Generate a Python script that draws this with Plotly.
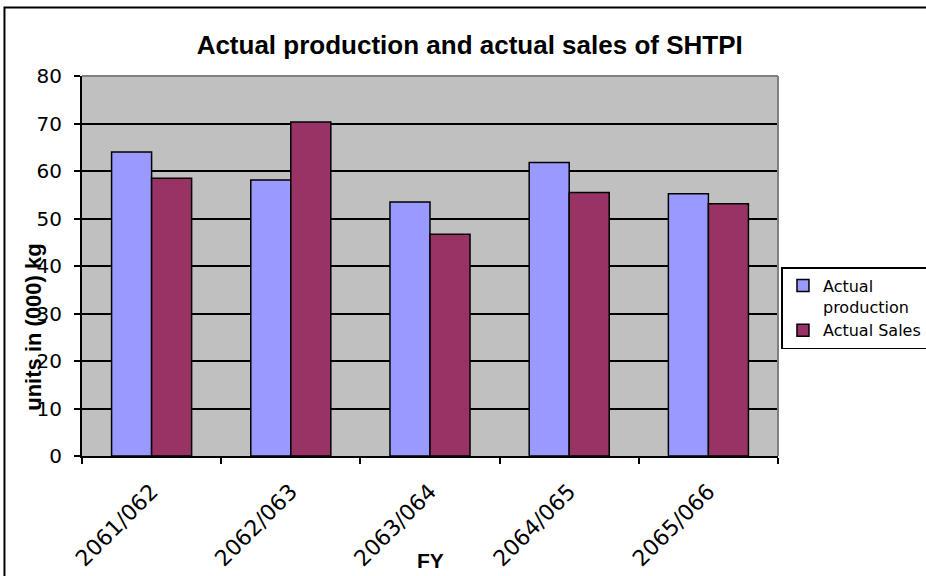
import plotly.graph_objects as go

# Financial years and units (in thousand kg)
years = ["2061/062", "2062/063", "2063/064", "2064/065", "2065/066"]
actual_production = [64.0, 58.1, 53.5, 61.8, 55.2]
actual_sales = [58.5, 70.3, 46.7, 55.5, 53.1]

PROD_COLOR = "#9999FF"
SALES_COLOR = "#993366"
PLOT_BG = "#C0C0C0"

fig = go.Figure()
fig.add_trace(go.Bar(
    x=years, y=actual_production, name="Actual<br>production",
    marker=dict(color=PROD_COLOR, line=dict(color="black", width=1.5)),
))
fig.add_trace(go.Bar(
    x=years, y=actual_sales, name="Actual Sales",
    marker=dict(color=SALES_COLOR, line=dict(color="black", width=1.5)),
))

fig.update_layout(
    width=926, height=576,
    margin=dict(l=82, r=148, t=76, b=120, autoexpand=False),
    paper_bgcolor="white",
    plot_bgcolor=PLOT_BG,
    barmode="group",
    bargap=0.425,
    bargroupgap=0,
    showlegend=True,
    title=dict(
        text="<b>Actual production and actual sales of SHTPI</b>",
        font=dict(family="Liberation Sans, Arial", size=26, color="black"),
        x=0.557, xref="paper", xanchor="center",
        y=0.922, yref="container", yanchor="middle",
    ),
    legend=dict(
        x=1.005, y=0.497, xanchor="left", yanchor="top",
        bgcolor="white", bordercolor="black", borderwidth=1.5,
        font=dict(family="DejaVu Sans", size=16, color="black"),
        itemwidth=30, valign="top", tracegroupgap=0,
    ),
    xaxis=dict(
        type="category",
        tickangle=-45,
        tickfont=dict(family="DejaVu Sans", size=22, color="black"),
        ticks="outside", ticklen=6, tickwidth=1.5, tickcolor="black",
        tickson="boundaries",
        ticklabelstandoff=12,
        showline=True, linecolor="black", linewidth=2,
        showgrid=False,
    ),
    yaxis=dict(
        range=[0, 80],
        dtick=10,
        tickfont=dict(family="DejaVu Sans", size=20, color="black"),
        ticks="outside", ticklen=6, tickwidth=1.5, tickcolor="black",
        ticklabelstandoff=8,
        showline=True, linecolor="black", linewidth=2,
        showgrid=True, gridcolor="black", gridwidth=1.5,
        zeroline=False,
    ),
    annotations=[
        dict(
            text="<b>units in (000) kg</b>",
            xref="paper", yref="paper", x=-0.069, y=0.34,
            xanchor="center", yanchor="middle", textangle=-90,
            showarrow=False,
            font=dict(family="Liberation Sans, Arial", size=22, color="black"),
        ),
        dict(
            text="<b>FY</b>",
            xref="paper", yref="paper", x=0.5, y=-0.276,
            xanchor="center", yanchor="middle",
            showarrow=False,
            font=dict(family="Liberation Sans, Arial", size=21, color="black"),
        ),
    ],
    shapes=[
        # plot area border on the top and right edges
        dict(type="line", xref="paper", yref="paper", x0=0, x1=1, y0=1, y1=1,
             line=dict(color="#808080", width=2), layer="above"),
        dict(type="line", xref="paper", yref="paper", x0=1, x1=1, y0=0, y1=1,
             line=dict(color="#808080", width=2), layer="above"),
        # chart area frame
        dict(type="rect", xref="paper", yref="paper",
             x0=-0.1114, x1=1.5, y0=-0.6, y1=1.180,
             line=dict(color="black", width=2), layer="above"),
    ],
)

fig.write_html("out.html")
